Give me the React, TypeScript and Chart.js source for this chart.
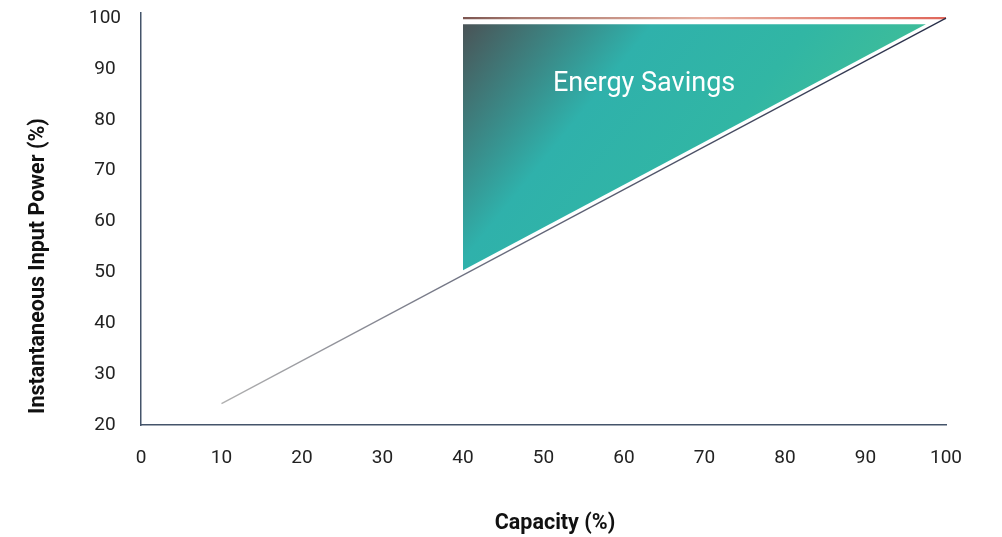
import React, { useEffect, useRef } from "react";
import { Chart, registerables } from "chart.js";
Chart.register(...registerables);

const xTicks = [0, 10, 20, 30, 40, 50, 60, 70, 80, 90, 100];
const yTicks = [20, 30, 40, 50, 60, 70, 80, 90, 100];
const baselineX = [10, 100];
const baselineY = [24.2, 100];
const fullPowerX = [40, 100];
const fullPowerY = [100, 100];
const savingsX = [40, 97.5, 40, 40];
const savingsY = [98.8, 98.8, 50.4, 98.8];
const savingsLabel = "Energy Savings";
const savingsLabelPos = { x: 62.5, y: 87 };
const xTitle = "Capacity (%)";
const yTitle = "Instantaneous Input Power (%)";

const zip = (xs: number[], ys: number[]) => xs.map((x, i) => ({ x, y: ys[i] }));

export default function App() {
  const ref = useRef<HTMLCanvasElement>(null);
  useEffect(() => {
    const canvas = ref.current!;
    const labelPlugin = {
      id: "savingsLabel",
      afterDatasetsDraw(chart: any) {
        const { ctx, scales } = chart;
        ctx.save();
        ctx.fillStyle = "#ffffff";
        ctx.font = "27px Roboto";
        ctx.textAlign = "center";
        ctx.textBaseline = "middle";
        ctx.fillText(
          savingsLabel,
          scales.x.getPixelForValue(savingsLabelPos.x),
          scales.y.getPixelForValue(savingsLabelPos.y)
        );
        ctx.restore();
      },
    };
    const titlesPlugin = {
      id: "axisTitles",
      afterDraw(chart: any) {
        const { ctx, chartArea } = chart;
        ctx.save();
        ctx.fillStyle = "#111111";
        ctx.font = "bold 21.5px Roboto";
        ctx.textAlign = "center";
        ctx.textBaseline = "middle";
        ctx.fillText(xTitle, (chartArea.left + chartArea.right) / 2 + 11.5, chartArea.bottom + 99);
        ctx.translate(chartArea.left - 102, chartArea.bottom - 159);
        ctx.rotate(-Math.PI / 2);
        ctx.fillText(yTitle, 0, 0);
        ctx.restore();
      },
    };
    const chart = new Chart(canvas, {
      type: "line",
      data: {
        datasets: [
          {
            data: zip(savingsX, savingsY),
            fill: "shape",
            borderWidth: 0,
            pointRadius: 0,
            tension: 0,
            backgroundColor: (c: any) => {
              const { chart } = c;
              const s = chart.scales;
              if (!s || !s.x || !chart.chartArea) return "#2fb3ad";
              const g = chart.ctx.createLinearGradient(
                s.x.getPixelForValue(40),
                s.y.getPixelForValue(99),
                s.x.getPixelForValue(88),
                s.y.getPixelForValue(38)
              );
              g.addColorStop(0, "#4a5356");
              g.addColorStop(0.3, "#2fb1ab");
              g.addColorStop(0.55, "#31b6a4");
              g.addColorStop(1, "#4fc68b");
              return g;
            },
          },
          {
            data: zip(baselineX, baselineY),
            fill: false,
            borderWidth: 1.3,
            pointRadius: 0,
            clip: false,
            borderColor: (c: any) => {
              const { chart } = c;
              const s = chart.scales;
              if (!s || !s.x || !chart.chartArea) return "#2b3350";
              const g = chart.ctx.createLinearGradient(
                s.x.getPixelForValue(10), 0, s.x.getPixelForValue(100), 0
              );
              g.addColorStop(0, "#b0b0b0");
              g.addColorStop(0.35, "#6c6f80");
              g.addColorStop(1, "#262d48");
              return g;
            },
          },
          {
            data: zip(fullPowerX, fullPowerY),
            fill: false,
            borderWidth: 2.2,
            pointRadius: 0,
            clip: false,
            borderColor: (c: any) => {
              const { chart } = c;
              const s = chart.scales;
              if (!s || !s.x || !chart.chartArea) return "#e06a5e";
              const g = chart.ctx.createLinearGradient(
                s.x.getPixelForValue(40), 0, s.x.getPixelForValue(100), 0
              );
              g.addColorStop(0, "#7c5550");
              g.addColorStop(0.12, "#a87a70");
              g.addColorStop(0.5, "#e6ae9f");
              g.addColorStop(1, "#e0675b");
              return g;
            },
          },
        ],
      },
      options: {
        responsive: false,
        animation: false,
        layout: { padding: { left: 0, right: 56, top: 13, bottom: 0 } },
        plugins: { legend: { display: false }, tooltip: { enabled: false } },
        scales: {
          x: {
            type: "linear",
            min: 0,
            max: 100,
            afterBuildTicks: (scale: any) => {
              scale.ticks = xTicks.map((v) => ({ value: v }));
            },
            afterFit: (scale: any) => {
              scale.height = 112;
              scale.paddingLeft = 0;
              scale.paddingRight = 0;
            },
            grid: { display: false, drawTicks: false },
            border: { display: true, color: "#44546a", width: 1.5 },
            ticks: { color: "#222222", font: { family: "Roboto", size: 19 }, padding: 22, maxRotation: 0 },
            title: { display: false },
          },
          y: {
            type: "linear",
            min: 20,
            max: 101,
            afterBuildTicks: (scale: any) => {
              scale.ticks = yTicks.map((v) => ({ value: v }));
            },
            afterFit: (scale: any) => {
              scale.width = 141;
              scale.paddingTop = 0;
              scale.paddingBottom = 0;
            },
            grid: { display: false, drawTicks: false },
            border: { display: true, color: "#44546a", width: 1.5 },
            ticks: { color: "#222222", font: { family: "Roboto", size: 19 }, padding: 20, crossAlign: "center" },
            title: { display: false },
          },
        },
      },
      plugins: [labelPlugin, titlesPlugin],
    } as any);
    return () => chart.destroy();
  }, []);
  return (
    <div style={{ position: "fixed", left: 0, top: 0, width: 1002, height: 537, background: "#fff" }}>
      <canvas ref={ref} width={1002} height={537} style={{ display: "block" }} />
    </div>
  );
}
